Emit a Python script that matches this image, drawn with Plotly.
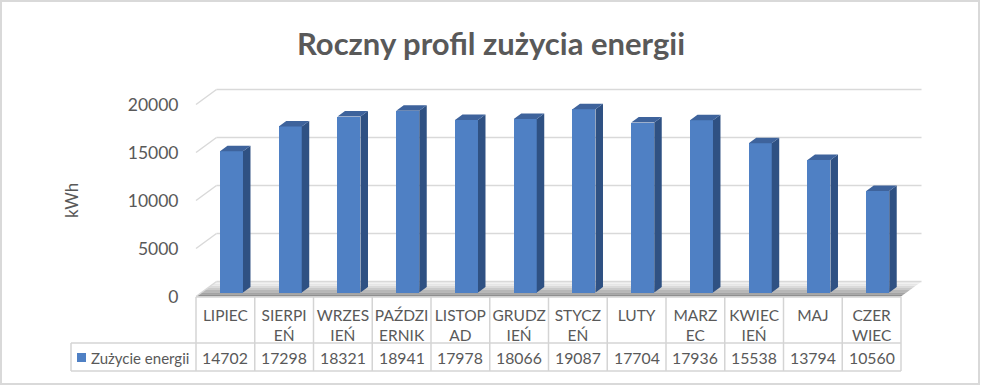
import plotly.graph_objects as go

# ---------------- data ----------------
months = ["LIPIEC", "SIERPIEŃ", "WRZESIEŃ", "PAŹDZIERNIK", "LISTOPAD", "GRUDZIEŃ",
          "STYCZEŃ", "LUTY", "MARZEC", "KWIECIEŃ", "MAJ", "CZERWIEC"]
month_labels = ["LIPIEC", "SIERPI<br>EŃ", "WRZES<br>IEŃ", "PAŹDZI<br>ERNIK", "LISTOP<br>AD",
                "GRUDZ<br>IEŃ", "STYCZ<br>EŃ", "LUTY", "MARZ<br>EC", "KWIEC<br>IEŃ", "MAJ",
                "CZER<br>WIEC"]
energy_kwh = [14702, 17298, 18321, 18941, 17978, 18066, 19087, 17704, 17936, 15538, 13794, 10560]
y_ticks = [0, 5000, 10000, 15000, 20000]
series_name = "Zużycie energii"
title_text = "Roczny profil zużycia energii"
y_title = "kWh"

# ---------------- geometry helpers (pixel -> data) ----------------
W, H = 982, 386
ML, MR, MT, MB = 60, 57, 85, 14
X0PX, XS = 196.0, 58.75          # x=0 at 196px, one category = 58.75px
Y0PX, YS = 296.5, 0.0096         # y=0 at 296.5px, px per kWh


def dxp(px):
    return (px - X0PX) / XS


def dyp(py):
    return (Y0PX - py) / YS


def paper_x(px):
    return (px - ML) / (W - ML - MR)


def paper_y(py):
    return (H - MB - py) / (H - MT - MB)


n = len(energy_kwh)
DXU, DYU = 20.5 / XS, 15.0 / YS          # depth of the 3D box
BS = 4.0 / YS                            # bar sits a bit back in depth
BC, BW = 0.604, 23.0 / XS                # bar centre offset and width
SDX, SDY = 7.5 / XS, 5.5 / YS            # bar depth

FRONT, SIDE, TOP = "#4f80c4", "#2f5183", "#3e639c"
GRID = "#d9d9d9"
TXT = "#595959"
FONT = "Lato"

fig = go.Figure()

# front faces
fig.add_trace(go.Bar(
    x=[i + BC for i in range(n)], y=energy_kwh, base=BS, width=BW,
    marker=dict(color=FRONT, line=dict(width=0)), name=series_name,
    customdata=months, hovertemplate="%{customdata}: %{y} kWh<extra></extra>",
))

# side and top faces
sx, sy, tx, ty = [], [], [], []
for i, v in enumerate(energy_kwh):
    xl = i + BC - BW / 2
    xr = i + BC + BW / 2
    yb, yt = BS, v + BS
    sx += [xr, xr + SDX, xr + SDX, xr, xr, None]
    sy += [yb, yb + SDY, yt + SDY, yt, yb, None]
    tx += [xl, xr, xr + SDX, xl + SDX, xl, None]
    ty += [yt, yt, yt + SDY, yt + SDY, yt, None]
fig.add_trace(go.Scatter(x=sx, y=sy, fill="toself", fillcolor=SIDE, mode="lines",
                         line=dict(width=0, color=SIDE), hoverinfo="skip", showlegend=False))
fig.add_trace(go.Scatter(x=tx, y=ty, fill="toself", fillcolor=TOP, mode="lines",
                         line=dict(width=0, color=TOP), hoverinfo="skip", showlegend=False))

shapes = []
# floor with stepped gradient (shadow darker at the front)
floor_cols = ["#8f8f8f", "#a3a3a3", "#b7b7b7", "#cacaca", "#dadada", "#e6e6e6", "#eeeeee"]
nb = len(floor_cols)
for k, c in enumerate(floor_cols):
    t0, t1 = k / nb, (k + 1) / nb
    p = (f"M {t0*DXU},{t0*DYU} L {n + t0*DXU},{t0*DYU} L {n + t1*DXU},{t1*DYU} "
         f"L {t1*DXU},{t1*DYU} Z")
    shapes.append(dict(type="path", path=p, xref="x", yref="y", fillcolor=c,
                       line=dict(width=0), layer="below"))

# back wall and side wall gridlines
for v in y_ticks:
    shapes.append(dict(type="line", xref="x", yref="y", x0=DXU, x1=n + DXU,
                       y0=v + DYU, y1=v + DYU, line=dict(color=GRID, width=1.5), layer="below"))
    shapes.append(dict(type="line", xref="x", yref="y", x0=0, x1=DXU,
                       y0=v, y1=v + DYU, line=dict(color=GRID, width=1.5), layer="below"))

# data table
TL = dxp(71)
r0, r1, r2 = dyp(297), dyp(343), dyp(371)
tline = dict(color="#d4d4d4", width=1.5)
shapes.append(dict(type="line", xref="x", yref="y", x0=0, x1=n, y0=r0, y1=r0, line=tline))
for yy in (r1, r2):
    shapes.append(dict(type="line", xref="x", yref="y", x0=TL, x1=n, y0=yy, y1=yy, line=tline))
for i in range(n + 1):
    shapes.append(dict(type="line", xref="x", yref="y", x0=i, x1=i, y0=r0, y1=r2, line=tline))
shapes.append(dict(type="line", xref="x", yref="y", x0=TL, x1=TL, y0=r1, y1=r2, line=tline))
# legend key
shapes.append(dict(type="rect", xref="x", yref="y", x0=dxp(77), x1=dxp(86),
                   y0=dyp(362), y1=dyp(353), fillcolor=FRONT, line=dict(width=0)))
# chart border
shapes.append(dict(type="rect", xref="paper", yref="paper", x0=paper_x(1), x1=paper_x(979),
                   y0=paper_y(384), y1=paper_y(1), line=dict(color="#d9d9d9", width=2)))

annotations = []
for i, v in enumerate(energy_kwh):
    annotations.append(dict(x=i + 0.5, y=dyp(357.5), xref="x", yref="y", text=str(v),
                            showarrow=False, font=dict(family=FONT, size=15.8, color=TXT)))
annotations.append(dict(x=dxp(89), y=dyp(357.5), xref="x", yref="y", text=series_name,
                        xanchor="left", showarrow=False,
                        font=dict(family=FONT, size=15, color=TXT)))
annotations.append(dict(x=dxp(71), y=dyp(201), xref="x", yref="y", text=y_title,
                        textangle=-90, showarrow=False,
                        font=dict(family=FONT, size=17, color=TXT)))

fig.update_layout(
    width=W, height=H,
    margin=dict(l=ML, r=MR, t=MT, b=MB),
    paper_bgcolor="white", plot_bgcolor="white",
    showlegend=False,
    title=dict(text=title_text, x=0.5, xref="container", xanchor="center",
               y=1 - 44 / H, yref="container", yanchor="middle",
               font=dict(family=FONT, size=31, color=TXT, weight="bold")),
    xaxis=dict(range=[dxp(ML), dxp(W - MR)], showgrid=False, zeroline=False, showline=False,
               tickmode="array", tickvals=[i + 0.5 for i in range(n)], ticktext=month_labels,
               ticks="outside", ticklen=4, tickcolor="rgba(0,0,0,0)",
               anchor="free", position=paper_y(297),
               tickfont=dict(family=FONT, size=15.5, color=TXT), fixedrange=True),
    yaxis=dict(range=[dyp(H - MB), dyp(MT)], showgrid=False, zeroline=False, showline=False,
               tickmode="array", tickvals=y_ticks, ticktext=[str(t) for t in y_ticks],
               ticks="outside", ticklen=14, tickcolor="rgba(0,0,0,0)",
               anchor="free", position=paper_x(196),
               tickfont=dict(family=FONT, size=17.5, color=TXT), fixedrange=True),
    shapes=shapes, annotations=annotations,
    bargap=0,
)

fig.write_html("out.html", config={"displayModeBar": False},
               post_script="document.body.style.margin='0px';")
